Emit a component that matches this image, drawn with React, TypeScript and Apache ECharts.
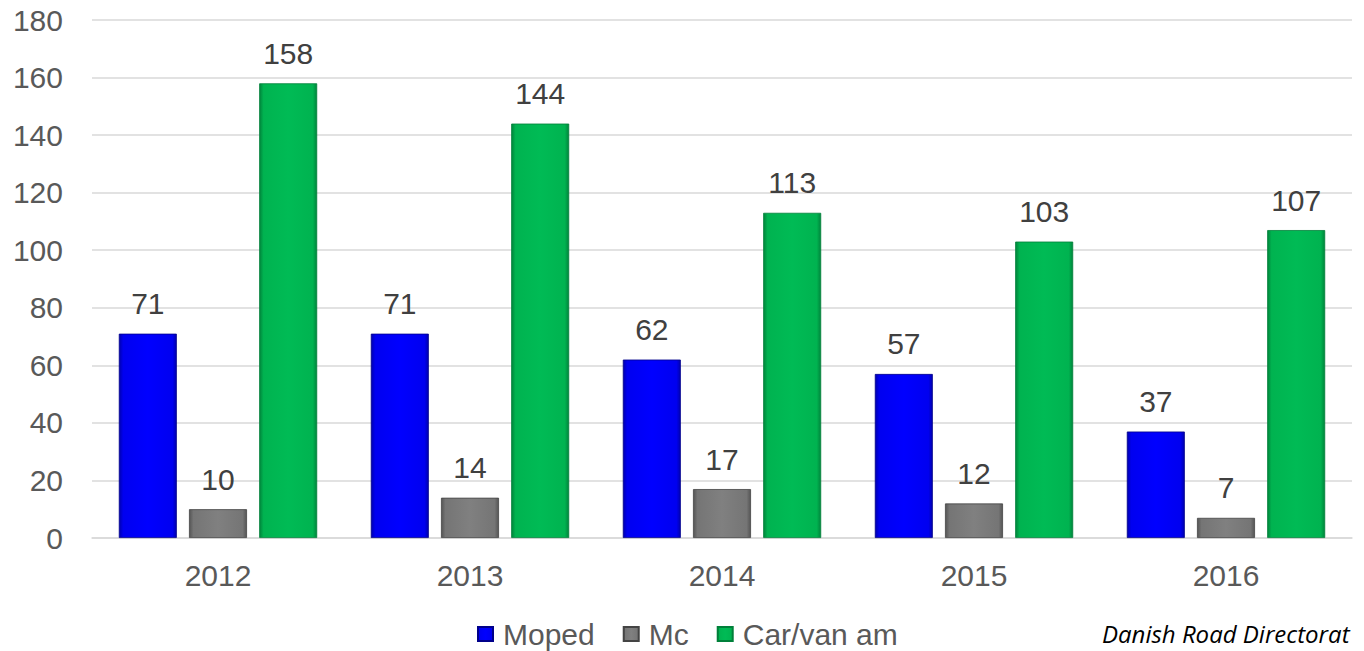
import React, { useEffect, useRef } from "react";
import * as echarts from "echarts";

const years = ["2012", "2013", "2014", "2015", "2016"];
const moped = [71, 71, 62, 57, 37];
const mc = [10, 14, 17, 12, 7];
const carVan = [158, 144, 113, 103, 107];
const seriesNames = ["Moped", "Mc", "Car/van am"];
const sourceText = "Danish Road Directorat";

function grad(dark: string, base: string, light: string) {
  return new echarts.graphic.LinearGradient(0, 0, 1, 0, [
    { offset: 0, color: dark },
    { offset: 0.07, color: base },
    { offset: 0.5, color: light },
    { offset: 0.93, color: base },
    { offset: 1, color: dark },
  ]);
}

export default function App() {
  const ref = useRef<HTMLDivElement>(null);
  useEffect(() => {
    document.body.style.margin = "0";
    const chart = echarts.init(ref.current!, null, { renderer: "svg" });
    const font = "Liberation Sans, Arial, sans-serif";
    const label = {
      show: true,
      position: "top",
      distance: 15,
      fontSize: 30,
      color: "#404040",
      fontFamily: font,
    };
    const mk = (name: string, data: number[], style: any) => ({
      name,
      type: "bar",
      data,
      barWidth: 58,
      barGap: "21%",
      label,
      itemStyle: style,
    });
    chart.setOption({
      animation: false,
      textStyle: { fontFamily: font },
      grid: { left: 92, right: 12, top: 20, bottom: 113 },
      legend: {
        left: 477,
        top: 619,
        padding: 0,
        icon: "rect",
        itemWidth: 15,
        itemHeight: 14,
        itemGap: 28,
        textStyle: {
          fontSize: 30,
          color: "#595959",
          padding: [0, 0, 0, 5],
          fontFamily: font,
        },
        data: seriesNames,
      },
      xAxis: {
        type: "category",
        data: years,
        axisLine: { lineStyle: { color: "#d9d9d9", width: 1.5 } },
        axisTick: { show: false },
        axisLabel: { fontSize: 30, color: "#595959", margin: 22 },
      },
      yAxis: {
        type: "value",
        min: 0,
        max: 180,
        interval: 20,
        axisLine: { show: false },
        axisTick: { show: false },
        splitLine: { lineStyle: { color: "#d9d9d9", width: 1.5 } },
        axisLabel: { fontSize: 30, color: "#595959", margin: 29 },
      },
      series: [
        mk(seriesNames[0], moped, {
          color: grad("#0000b0", "#0000f0", "#0000ff"),
          borderColor: "#00008a",
          borderWidth: 0.8,
        }),
        mk(seriesNames[1], mc, {
          color: grad("#555555", "#757575", "#808080"),
          borderColor: "#444444",
          borderWidth: 0.8,
        }),
        mk(seriesNames[2], carVan, {
          color: grad("#00853c", "#00b350", "#00bb55"),
          borderColor: "#00803a",
          borderWidth: 0.8,
        }),
      ],
      graphic: [
        {
          type: "text",
          left: 1102,
          top: 621,
          style: {
            text: sourceText,
            fontSize: 24,
            fontStyle: "italic",
            fontFamily: "Open Sans, Lato, sans-serif",
            fill: "#000000",
          },
        },
      ],
    });
    return () => chart.dispose();
  }, []);
  return <div ref={ref} style={{ width: 1364, height: 651, overflow: "hidden" }} />;
}
